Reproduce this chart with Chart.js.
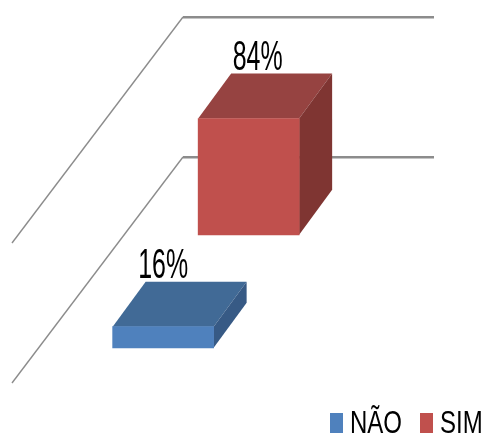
<!DOCTYPE html>
<html>
<head>
<meta charset="utf-8">
<style>
  html, body { margin: 0; background: #fff; }
  canvas { display: block; }
</style>
<script src="https://cdn.jsdelivr.net/npm/chart.js@4"></script>
</head>
<body>
<canvas id="chart" width="484" height="439"></canvas>
<script>
const categories = ['Resposta'];
const seriesNames = ['NÃO', 'SIM'];
const naoValues = [16];
const simValues = [84];
const yTicks = [0, 100];

const frontColors = ['#4F81BD', '#C0504D'];
const topColors = ['#416A96', '#964341'];
const sideColors = ['#375A85', '#7F3532'];
const gridColor = '#8C8C8C';

// depth of the floor, going from the back wall towards the viewer
const wallDepth = { x: 171, y: 226 };
// depth of one box
const boxDepth = { x: 33, y: 45 };
// how far each series sits in front of the wall, as a share of the floor
const depthShare = [0.85, 0.35];
const labelShift = [0, 9];

const font = size => size + 'px "Liberation Sans"';

function squeezedText(ctx, text, x, y, size, squeeze, align) {
    ctx.save();
    ctx.translate(x, y);
    ctx.scale(squeeze, 1);
    ctx.font = font(size);
    ctx.fillStyle = '#000';
    ctx.textAlign = align;
    ctx.textBaseline = 'alphabetic';
    ctx.fillText(text, 0, 0);
    ctx.restore();
}

// side walls of the floor and the back wall
const wallPlugin = {
    id: 'wall',
    beforeDatasetsDraw(chart) {
        const ctx = chart.ctx;
        const left = chart.chartArea.left;
        ctx.save();
        ctx.strokeStyle = gridColor;
        ctx.lineWidth = 1.4;
        yTicks.forEach(tick => {
            const y = chart.scales.y.getPixelForValue(tick);
            ctx.beginPath();
            ctx.moveTo(left, y);
            ctx.lineTo(left - wallDepth.x, y + wallDepth.y);
            ctx.stroke();
        });
        ctx.restore();
    }
};

// moves each series forward and gives its bar a top and a side
const boxPlugin = {
    id: 'box',
    beforeDatasetDraw(chart, args) {
        const ctx = chart.ctx;
        const i = args.index;
        const bar = args.meta.data[0];
        const l = bar.x - bar.width / 2;
        const r = bar.x + bar.width / 2;
        ctx.save();
        ctx.translate(-wallDepth.x * depthShare[i], wallDepth.y * depthShare[i]);

        ctx.fillStyle = topColors[i];
        ctx.beginPath();
        ctx.moveTo(l, bar.y);
        ctx.lineTo(l + boxDepth.x, bar.y - boxDepth.y);
        ctx.lineTo(r + boxDepth.x, bar.y - boxDepth.y);
        ctx.lineTo(r, bar.y);
        ctx.closePath();
        ctx.fill();

        ctx.fillStyle = sideColors[i];
        ctx.beginPath();
        ctx.moveTo(r, bar.y);
        ctx.lineTo(r + boxDepth.x, bar.y - boxDepth.y);
        ctx.lineTo(r + boxDepth.x, bar.base - boxDepth.y);
        ctx.lineTo(r, bar.base);
        ctx.closePath();
        ctx.fill();
    },
    afterDatasetDraw(chart, args) {
        const ctx = chart.ctx;
        const i = args.index;
        const bar = args.meta.data[0];
        const value = chart.data.datasets[i].data[0];
        const x = bar.x + labelShift[i];
        const y = bar.y - boxDepth.y - 4;
        squeezedText(ctx, value + '%', x, y, 43, 0.58, 'center');
        ctx.restore();
    }
};

// legend in the lower right corner, with narrowed labels
const keyPlugin = {
    id: 'key',
    afterDraw(chart) {
        const ctx = chart.ctx;
        const boxX = [330, 420];
        const textX = [350, 440];
        seriesNames.forEach((name, i) => {
            ctx.fillStyle = frontColors[i];
            ctx.fillRect(boxX[i], 413, 13, 20);
            squeezedText(ctx, name, textX[i], 433, 32, 0.75, 'left');
        });
    }
};

new Chart(document.getElementById('chart'), {
    type: 'bar',
    data: {
        labels: categories,
        datasets: [
            { label: seriesNames[0], data: naoValues, backgroundColor: frontColors[0] },
            { label: seriesNames[1], data: simValues, backgroundColor: frontColors[1] }
        ]
    },
    options: {
        responsive: false,
        animation: false,
        grouped: false,
        barThickness: 101,
        clip: false,
        layout: {
            padding: { left: 183, top: 17, right: 50, bottom: 282 }
        },
        scales: {
            x: { display: false },
            y: {
                min: yTicks[0],
                max: yTicks[1],
                ticks: { display: false, stepSize: yTicks[1] },
                border: { display: false },
                grid: { color: gridColor, lineWidth: 2.5, drawTicks: false }
            }
        },
        plugins: {
            legend: { display: false },
            tooltip: { enabled: false }
        }
    },
    plugins: [wallPlugin, boxPlugin, keyPlugin]
});
</script>
</body>
</html>
